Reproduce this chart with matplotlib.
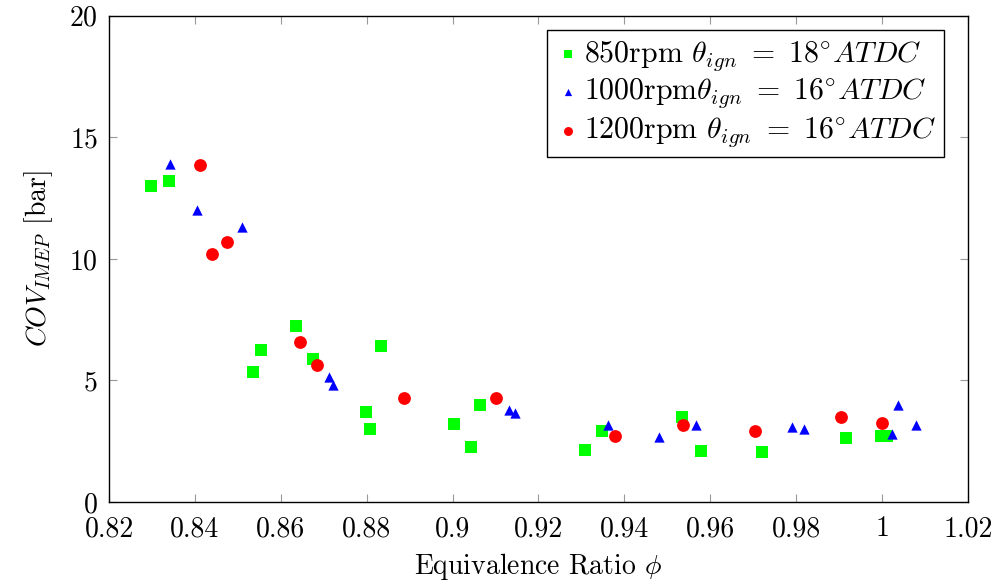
import matplotlib
matplotlib.use("Agg")
import matplotlib.pyplot as plt
from matplotlib.ticker import FuncFormatter

plt.rcParams['font.family'] = 'serif'
plt.rcParams['font.serif'] = ['cmr10', 'DejaVu Serif']
plt.rcParams['mathtext.fontset'] = 'cm'
plt.rcParams['axes.formatter.use_mathtext'] = True

# 850 rpm, theta_ign = 18 deg ATDC
phi_850 = [0.8298, 0.8339, 0.8536, 0.8555, 0.8635, 0.8675, 0.8798, 0.8807, 0.8833,
           0.9003, 0.9043, 0.9064, 0.9309, 0.9348, 0.9535, 0.9578, 0.9720, 0.9915,
           0.9997, 1.0012]
cov_850 = [13.0, 13.2, 5.35, 6.27, 7.23, 5.86, 3.70, 2.99, 6.40,
           3.22, 2.25, 3.99, 2.15, 2.93, 3.50, 2.09, 2.04, 2.63,
           2.72, 2.72]

# 1000 rpm, theta_ign = 16 deg ATDC
phi_1000 = [0.8342, 0.8405, 0.8510, 0.8713, 0.8722, 0.9132, 0.9146, 0.9361, 0.9481,
            0.9566, 0.9791, 0.9817, 1.0024, 1.0036, 1.0078]
cov_1000 = [13.9, 12.0, 11.3, 5.16, 4.80, 3.79, 3.65, 3.17, 2.69,
            3.17, 3.09, 2.99, 2.81, 4.00, 3.16]

# 1200 rpm, theta_ign = 16 deg ATDC
phi_1200 = [0.8413, 0.8439, 0.8475, 0.8644, 0.8684, 0.8886, 0.9102, 0.9379, 0.9537,
            0.9704, 0.9905, 0.9999]
cov_1200 = [13.87, 10.22, 10.71, 6.58, 5.62, 4.29, 4.29, 2.72, 3.18,
            2.92, 3.50, 3.24]

fig = plt.figure(figsize=(10, 5.83), dpi=100)
ax = fig.add_axes([0.109, 0.139, 0.859, 0.834])

ax.scatter(phi_850, cov_850, marker='s', s=80, color='#00ff00', linewidths=0,
           label=r'850rpm $\theta_{ign}\ =\ 18^{\circ}ATDC$')
ax.scatter(phi_1000, cov_1000, marker='^', s=55, color='#0000ff', linewidths=0,
           label=r'1000rpm$\theta_{ign}\ =\ 16^{\circ}ATDC$')
ax.scatter(phi_1200, cov_1200, marker='o', s=85, color='#ff0000', linewidths=0,
           label=r'1200rpm $\theta_{ign}\ =\ 16^{\circ}ATDC$')

ax.set_xlim(0.82, 1.02)
ax.set_ylim(0, 20)
ax.set_xticks([0.82 + 0.02 * i for i in range(11)])
ax.set_yticks([0, 5, 10, 15, 20])
ax.xaxis.set_major_formatter(FuncFormatter(lambda v, p: '%g' % round(v, 2)))
ax.tick_params(direction='in', top=True, right=True, length=6, width=0.8,
               color='#999999', labelsize=20)
ax.tick_params(axis='x', pad=10)
ax.tick_params(axis='y', pad=8)
for sp in ax.spines.values():
    sp.set_linewidth(1.0)

ax.set_xlabel(r'Equivalence Ratio $\phi$', fontsize=20, labelpad=6)
ax.set_ylabel(r'$COV_{IMEP}$ [bar]', fontsize=20, labelpad=10)

leg = ax.legend(loc='upper right', bbox_to_anchor=(0.972, 0.97), borderaxespad=0,
                fontsize=21.5, frameon=True, fancybox=False,
                edgecolor='black', framealpha=1, handletextpad=0.1,
                borderpad=0.25, labelspacing=0.15, handlelength=0.9,
                markerscale=0.7)
leg.get_frame().set_linewidth(1.0)

fig.savefig('out.png', dpi=100)
